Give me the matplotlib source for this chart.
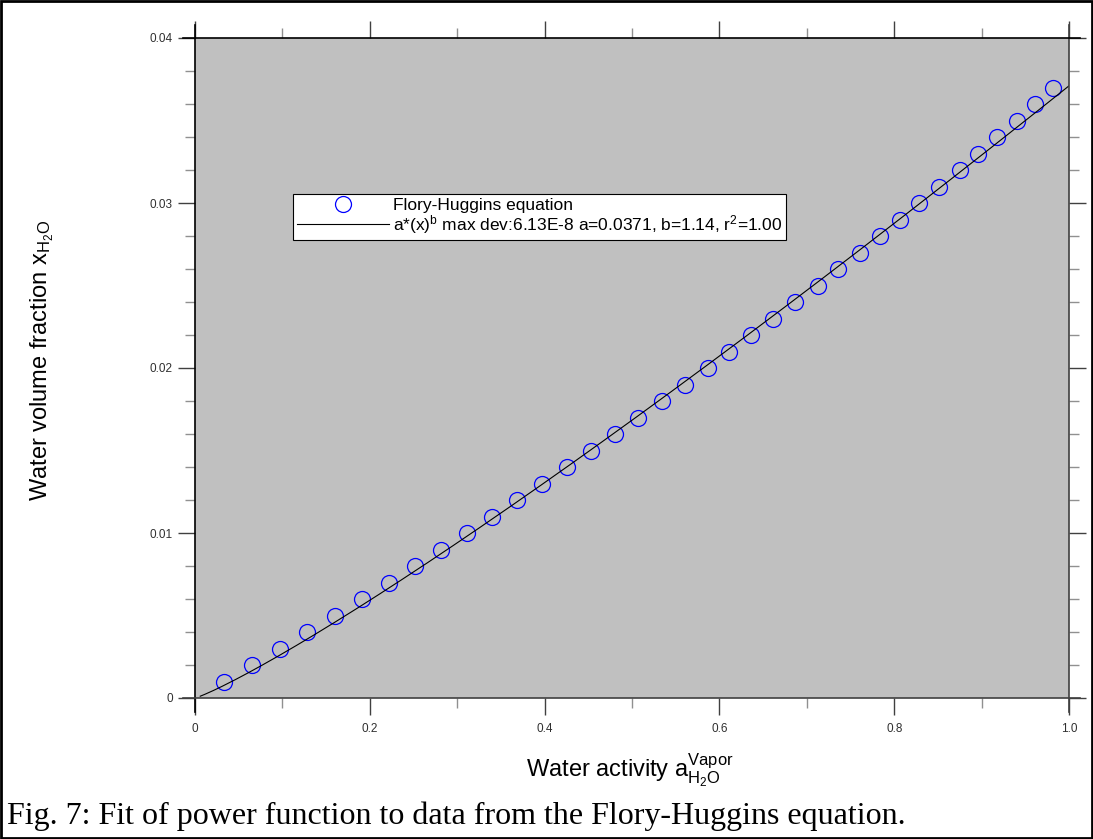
import numpy as np
import matplotlib.pyplot as plt
from matplotlib.lines import Line2D
from matplotlib.patches import Rectangle

plt.rcParams['font.family'] = 'Liberation Sans'
plt.rcParams['mathtext.fontset'] = 'custom'
plt.rcParams['mathtext.rm'] = 'Liberation Sans'
plt.rcParams['mathtext.it'] = 'Liberation Sans'

# Flory-Huggins data points (water activity, water volume fraction)
activity = [0.033, 0.065, 0.097, 0.128, 0.160, 0.191, 0.222, 0.252, 0.281, 0.311,
            0.340, 0.368, 0.397, 0.426, 0.453, 0.481, 0.507, 0.534, 0.561, 0.587,
            0.611, 0.636, 0.661, 0.686, 0.713, 0.736, 0.761, 0.784, 0.807, 0.828,
            0.851, 0.875, 0.896, 0.918, 0.940, 0.961, 0.982]
fraction = [0.001, 0.002, 0.003, 0.004, 0.005, 0.006, 0.007, 0.008, 0.009, 0.010,
            0.011, 0.012, 0.013, 0.014, 0.015, 0.016, 0.017, 0.018, 0.019, 0.020,
            0.021, 0.022, 0.023, 0.024, 0.025, 0.026, 0.027, 0.028, 0.029, 0.030,
            0.031, 0.032, 0.033, 0.034, 0.035, 0.036, 0.037]

# fitted power function a*x^b
fit_a = 0.0371
fit_b = 1.14
fit_x = np.linspace(0.006, 1.0, 200)
fit_y = fit_a * fit_x ** fit_b

xticks = [0, 0.2, 0.4, 0.6, 0.8, 1.0]
xticklabels = ['0', '0.2', '0.4', '0.6', '0.8', '1.0']
yticks = [0, 0.01, 0.02, 0.03, 0.04]
yticklabels = ['0', '0.01', '0.02', '0.03', '0.04']

W, H = 1093, 839
fig = plt.figure(figsize=(W / 100, H / 100), dpi=100)
ax = fig.add_axes([195 / W, 1 - 698 / H, 874 / W, 660 / H])
ax.set_facecolor('#c0c0c0')
ax.set_xlim(0, 1.0)
ax.set_ylim(0, 0.04)

ax.plot(activity, fraction, 'o', ms=11.5, mfc='none', mec='#0000ff', mew=0.9,
        label='Flory-Huggins equation')
ax.plot(fit_x, fit_y, color='black', lw=0.8,
        label=r'a*(x)$^\mathregular{b}$ max dev:6.13E-8 a=0.0371, b=1.14, r$^\mathregular{2}$=1.00')

for s in ax.spines.values():
    s.set_visible(False)

tc = '#404040'
ax.set_xticks(xticks)
ax.set_xticklabels(xticklabels)
ax.set_yticks(yticks)
ax.set_yticklabels(yticklabels)
ax.set_xticks(np.arange(0.1, 1.0, 0.2), minor=True)
ax.set_yticks(np.arange(0.002, 0.04, 0.002), minor=True)
ax.tick_params(which='major', direction='out', length=12, width=1, color=tc,
               labelsize=8.5, labelcolor='#303030', pad=4, right=True, top=True)
ax.tick_params(which='minor', direction='out', length=7, width=1, color='#909090',
               right=True, top=True)
ax.tick_params(axis='y', labelright=False)
ax.tick_params(axis='x', pad=6, labeltop=False)

# extended axis lines
def hline(x0, x1, y, c='#404040'):
    fig.add_artist(Line2D([x0 / W, x1 / W], [1 - y / H, 1 - y / H], color=c, lw=1.2))

def vline(x, y0, y1, c='#404040'):
    fig.add_artist(Line2D([x / W, x / W], [1 - y0 / H, 1 - y1 / H], color=c, lw=1.2))

vline(195, 25, 712, 'black')
vline(1069, 25, 712)
hline(183, 1080, 698)
hline(183, 1080, 38, 'black')

leg = ax.legend(loc='upper left', bbox_to_anchor=(0.112, 0.764), fontsize=12.5,
                frameon=True, fancybox=False, edgecolor='black', framealpha=1,
                handlelength=5.3, handletextpad=0.2, labelspacing=0.0,
                borderpad=0.25, borderaxespad=0)
leg.get_frame().set_linewidth(0.8)

fig.text(42 / W, 1 - 360 / H,
         r'Water volume fraction x$_\mathregular{H_2O}$',
         rotation=90, ha='center', va='center', fontsize=17)
fig.text(630 / W, 1 - 770 / H,
         r'Water activity a$_\mathregular{H_2O}^\mathregular{Vapor}$',
         ha='center', va='center', fontsize=17)

fig.text(7 / W, 1 - 816 / H,
         'Fig. 7: Fit of power function to data from the Flory-Huggins equation.',
         family='Liberation Serif', fontsize=23, ha='left', va='center')

fig.add_artist(Rectangle((0.001, 0.001), 0.998, 0.998, transform=fig.transFigure,
                         fill=False, edgecolor='black', lw=2))

fig.savefig('out.png', dpi=100)
